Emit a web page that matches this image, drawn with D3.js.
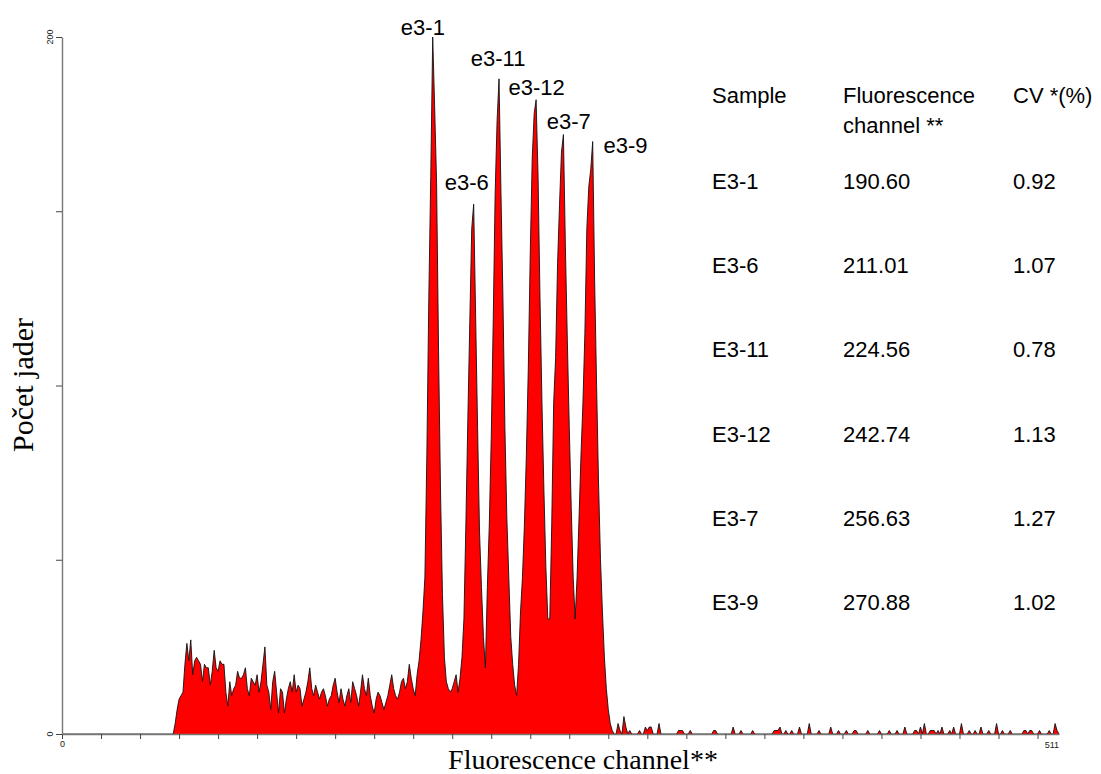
<!DOCTYPE html>
<html>
<head>
<meta charset="utf-8">
<script src="https://cdn.jsdelivr.net/npm/d3@7"></script>
<style>
  body { margin: 0; background: #fff; }
</style>
</head>
<body>
<div id="chart"></div>
<script>
// histogram counts, channel 56 .. 283 (one value per channel)
var firstChannel = 56;
var mainCounts = [
  0, 0, 3, 7, 10, 11, 12, 20, 26, 21, 27, 17, 21, 22, 21, 20, 15, 20, 19, 19,
  14, 18, 24, 19, 18, 21, 20, 20, 12, 8, 15, 11, 13, 14, 18, 16, 16, 17, 19, 13,
  11, 16, 15, 14, 17, 12, 15, 20, 25, 14, 12, 7, 15, 18, 12, 6, 13, 12, 6, 10,
  13, 15, 12, 17, 12, 14, 13, 8, 10, 12, 15, 19, 13, 11, 14, 12, 10, 12, 13, 11,
  8, 10, 11, 14, 16, 12, 9, 13, 10, 8, 11, 13, 9, 15, 13, 11, 8, 12, 17, 13,
  11, 16, 11, 8, 6, 10, 12, 11, 9, 7, 9, 11, 14, 17, 13, 11, 10, 12, 15, 16,
  13, 15, 20, 16, 13, 11, 17, 21, 27, 35, 45, 80, 125, 160, 200, 180, 158, 110, 70, 40,
  22, 15, 13, 12, 13, 15, 17, 12, 16, 22, 33, 60, 90, 118, 145, 152, 120, 88, 58, 42,
  28, 19, 42, 60, 85, 118, 155, 176, 188, 155, 125, 88, 62, 45, 28, 20, 14, 11, 20, 35,
  45, 60, 80, 105, 138, 165, 178, 182, 160, 125, 95, 70, 48, 33, 33, 60, 95, 108, 135, 152,
  167, 172, 140, 113, 88, 65, 45, 33, 45, 62, 80, 95, 115, 145, 157, 162, 170, 130, 100, 72,
  50, 35, 22, 13, 7, 3, 1, 0
];

// sparse debris above channel 283: [channel, count]
var tailBumps = [
  [285, 3], [286, 1], [288, 5], [289, 2], [291, 1], [296, 1], [299, 2], [300, 1],
  [301, 2], [302, 2], [306, 3], [316, 1], [317, 1], [318, 1], [322, 1], [334, 1],
  [335, 1], [344, 2], [348, 1], [354, 1], [365, 1], [366, 1], [367, 1], [368, 2],
  [371, 1], [374, 1], [378, 2], [383, 3], [388, 1], [394, 2], [398, 1], [402, 1],
  [406, 1], [407, 1], [413, 1], [419, 1], [424, 1], [428, 1], [432, 2], [437, 1],
  [438, 1], [440, 2], [442, 3], [445, 1], [446, 1], [447, 1], [449, 1], [451, 2],
  [455, 1], [457, 2], [461, 3], [465, 1], [468, 1], [471, 2], [475, 1], [479, 3],
  [482, 1], [486, 1], [493, 1], [494, 1], [496, 1], [497, 1], [501, 1], [506, 1],
  [509, 3], [510, 1]
];

// table
var sampleNames = ["E3-1", "E3-6", "E3-11", "E3-12", "E3-7", "E3-9"];
var peakChannels = [190.60, 211.01, 224.56, 242.74, 256.63, 270.88];
var cvValues = [0.92, 1.07, 0.78, 1.13, 1.27, 1.02];
var peakLabels = ["e3-1", "e3-6", "e3-11", "e3-12", "e3-7", "e3-9"];

var yTicks = [0, 50, 100, 150, 200];

var svgWidth = 1101;
var svgHeight = 774;

var margin = { top: 37, right: 42, bottom: 40, left: 62 };
var width = svgWidth - margin.left - margin.right;
var height = svgHeight - margin.top - margin.bottom;

var svg = d3.select("#chart")
  .append("svg")
  .attr("width", svgWidth)
  .attr("height", svgHeight)
  .style("font-family", "'Liberation Sans', Arial, sans-serif");

var chartGroup = svg.append("g")
  .attr("transform", `translate(${margin.left}, ${margin.top})`);

// build full 0..511 series
var counts = new Array(512).fill(0);
mainCounts.forEach(function(c, i) { counts[firstChannel + i] = c; });
tailBumps.forEach(function(b) { counts[b[0]] = b[1]; });
var hist = counts.map(function(c, ch) { return { ch: ch, n: c }; });

var x = d3.scaleLinear().domain([0, 511]).range([0, width]);
var y = d3.scaleLinear().domain([0, 200]).range([height, 0]);

// area
var area = d3.area()
  .x(d => x(d.ch))
  .y0(height)
  .y1(d => y(d.n));

var line = d3.line()
  .x(d => x(d.ch))
  .y(d => y(d.n));

chartGroup.append("path")
  .datum(hist)
  .attr("d", area)
  .attr("fill", "#ff0000");

chartGroup.append("path")
  .datum(hist)
  .attr("d", line)
  .attr("fill", "none")
  .attr("stroke", "#111")
  .attr("stroke-width", 0.9);

// axes
var bottomAxis = d3.axisBottom(x)
  .tickValues(d3.range(0, 511, 20))
  .tickSize(5)
  .tickSizeOuter(0)
  .tickFormat(d => d === 0 ? "0" : "");

var leftAxis = d3.axisLeft(y)
  .tickValues(yTicks)
  .tickSize(6)
  .tickSizeOuter(0)
  .tickFormat("");

var xAxisG = chartGroup.append("g")
  .attr("transform", `translate(0, ${height})`)
  .call(bottomAxis);

var yAxisG = chartGroup.append("g")
  .call(leftAxis);

[xAxisG, yAxisG].forEach(function(g) {
  g.select(".domain").attr("stroke", "#777").attr("stroke-width", 1.4);
  g.selectAll(".tick line").attr("stroke", "#444").attr("stroke-width", 1);
  g.selectAll("text").attr("font-size", "9px").attr("fill", "#222")
    .attr("font-family", "'Liberation Sans', Arial, sans-serif");
});
xAxisG.selectAll(".tick text").attr("y", 7);

chartGroup.append("text")
  .attr("x", x(511))
  .attr("y", height + 14)
  .attr("text-anchor", "end")
  .attr("font-size", "9px")
  .attr("fill", "#222")
  .text("511");

// y tick labels (only ends), rotated
[0, 200].forEach(function(v) {
  chartGroup.append("text")
    .attr("transform", `translate(-9, ${y(v)}) rotate(-90)`)
    .attr("text-anchor", "middle")
    .attr("font-size", "9px")
    .attr("fill", "#222")
    .text(v);
});

// axis titles
svg.append("text")
  .attr("x", 583)
  .attr("y", 769)
  .attr("text-anchor", "middle")
  .attr("font-family", "'Liberation Serif', 'Times New Roman', serif")
  .attr("font-size", "28px")
  .text("Fluorescence channel**");

svg.append("text")
  .attr("transform", `translate(33, 385) rotate(-90)`)
  .attr("text-anchor", "middle")
  .attr("font-family", "'Liberation Serif', 'Times New Roman', serif")
  .attr("font-size", "30px")
  .text("Počet jader");

// peak labels: pixel nudge from each peak top
var labelNudge = [[-11, -2], [-7, -14], [-2, -13], [1, -5], [6, -6], [35, 11]];

peakLabels.forEach(function(lbl, i) {
  var ch = Math.round(peakChannels[i]);
  var top = d3.max(hist.slice(ch - 2, ch + 3), d => d.n);
  chartGroup.append("text")
    .attr("x", x(peakChannels[i]) + labelNudge[i][0])
    .attr("y", y(top) + labelNudge[i][1])
    .attr("text-anchor", "middle")
    .attr("font-size", "22px")
    .attr("fill", "#000")
    .text(lbl);
});

// table
var colX = [712, 843, 1013];
var table = svg.append("g")
  .attr("font-size", "22px")
  .attr("fill", "#000");

table.append("text").attr("x", colX[0]).attr("y", 103).text("Sample");
table.append("text").attr("x", colX[1]).attr("y", 103).text("Fluorescence");
table.append("text").attr("x", colX[1]).attr("y", 133).text("channel **");
table.append("text").attr("x", colX[2]).attr("y", 103).text("CV *(%)");

sampleNames.forEach(function(name, i) {
  var rowY = 189 + i * 84.2;
  table.append("text").attr("x", colX[0]).attr("y", rowY).text(name);
  table.append("text").attr("x", colX[1]).attr("y", rowY).text(peakChannels[i].toFixed(2));
  table.append("text").attr("x", colX[2]).attr("y", rowY).text(cvValues[i].toFixed(2));
});
</script>
</body>
</html>
